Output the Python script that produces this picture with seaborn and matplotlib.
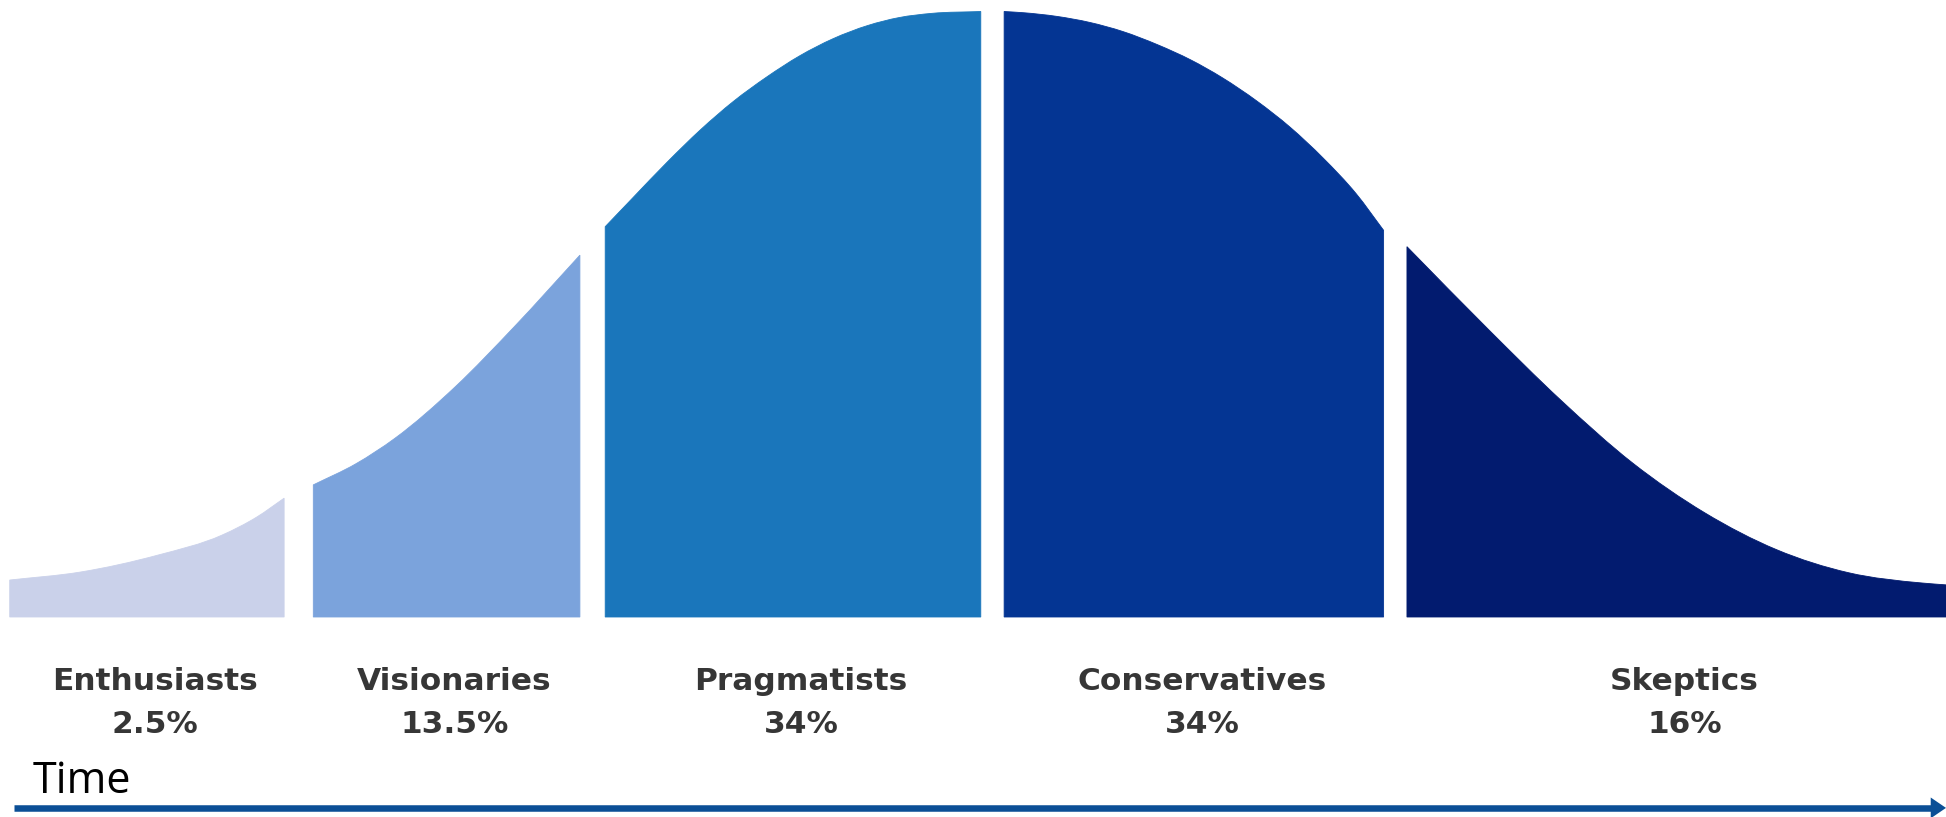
import numpy as np
import pandas as pd
import matplotlib
matplotlib.use("Agg")
import matplotlib.pyplot as plt
from matplotlib.path import Path
from matplotlib.patches import PathPatch
import seaborn as sns


segments = ["Enthusiasts", "Visionaries", "Pragmatists", "Conservatives", "Skeptics"]
shares = ["2.5%", "13.5%", "34%", "34%", "16%"]
colors = ["#cad1ea", "#7ba3dc", "#1a76bb", "#043593", "#021b6f"]

# outline of the curve
# time: 0-100 across the chart, height: peak of the curve = 100
enthusiasts_t = [0.5, 4.1, 8.1, 11.4, 13.2, 14.6]
enthusiasts_h = [6.1, 7.4, 10.2, 13.5, 16.5, 19.6]

visionaries_t = [16.1, 18.3, 20.3, 23.4, 26.4, 29.8]
visionaries_h = [21.8, 25.3, 29.5, 38.0, 47.8, 59.7]

pragmatists_t = [31.1, 32.5, 34.3, 36.0, 37.7, 39.4, 41.1, 42.8, 44.6, 46.2, 47.9, 50.4]
pragmatists_h = [64.4, 69.1, 75.1, 80.4, 85.1, 89.1, 92.6, 95.4, 97.6, 98.9, 99.6, 99.9]

conservatives_t = [51.6, 52.6, 54.3, 56.0, 57.7, 59.5, 61.2, 62.8, 64.6, 66.3, 68.0, 69.7, 71.1]
conservatives_h = [99.9, 99.7, 99.1, 98.1, 96.6, 94.4, 91.9, 89.0, 85.1, 80.8, 75.7, 69.8, 63.8]

skeptics_t = [72.3, 76.5, 80.2, 83.9, 87.6, 91.3, 95.0, 98.8, 100.0]
skeptics_h = [61.1, 47.4, 35.8, 25.4, 17.2, 11.1, 7.3, 5.6, 5.3]

outline_t = [enthusiasts_t, visionaries_t, pragmatists_t, conservatives_t, skeptics_t]
outline_h = [enthusiasts_h, visionaries_h, pragmatists_h, conservatives_h, skeptics_h]

# time axis under the labels
axis_t = [0.7, 99.3]
axis_level = -31.5


def smooth_area(ts, hs):
    # closed area under the outline, top edge drawn as a cubic hermite curve in x
    x = np.asarray(ts, float)
    y = np.asarray(hs, float)
    dx = np.diff(x)
    sec = np.diff(y) / dx
    m = np.empty_like(y)
    m[0], m[-1] = sec[0], sec[-1]
    m[1:-1] = (sec[:-1] * dx[1:] + sec[1:] * dx[:-1]) / (dx[:-1] + dx[1:])
    verts = [(x[0], 0), (x[0], y[0])]
    codes = [Path.MOVETO, Path.LINETO]
    for i in range(len(x) - 1):
        d = dx[i] / 3.0
        verts += [(x[i] + d, y[i] + m[i] * d),
                  (x[i + 1] - d, y[i + 1] - m[i + 1] * d),
                  (x[i + 1], y[i + 1])]
        codes += [Path.CURVE4] * 3
    verts += [(x[-1], 0), (x[0], 0)]
    codes += [Path.LINETO, Path.CLOSEPOLY]
    return Path(verts, codes)


sns.set_theme(style="white")
palette = sns.color_palette(colors)

fig = plt.figure(figsize=(19.46, 8.17), dpi=100)
ax = fig.add_axes([0, 0, 1, 1])

for ts, hs, col in zip(outline_t, outline_h, palette):
    ax.add_patch(PathPatch(smooth_area(ts, hs), facecolor=col, edgecolor=col, lw=0.6))

label_font = dict(family="DejaVu Sans", fontsize=22.5, fontweight="bold", color="#363636")
for seg, share, ts in zip(segments, shares, outline_t):
    cx = (ts[0] + ts[-1]) / 2
    ax.annotate(seg, (cx, -12.0), xytext=(8, 0), textcoords="offset pixels",
                ha="center", va="baseline", **label_font)
    ax.annotate(share, (cx, -19.1), xytext=(8, 0), textcoords="offset pixels",
                ha="center", va="baseline", **label_font)

ax.text(1.7, -29.0, "Time", family="Open Sans", fontsize=31, color="black",
        ha="left", va="baseline")

axis_df = pd.DataFrame({"time": axis_t, "level": [axis_level] * len(axis_t)})
sns.lineplot(data=axis_df, x="time", y="level", color="#0b4f96", lw=4.7,
             solid_capstyle="butt", ax=ax)
ax.annotate("", xy=(100, axis_level), xytext=(98.0, axis_level),
            arrowprops=dict(arrowstyle="-|>,head_length=1.1,head_width=0.75",
                            facecolor="#0b4f96", edgecolor="none", lw=0,
                            shrinkA=0, shrinkB=0, mutation_scale=10),
            annotation_clip=False)

ax.set_xlim(0, 100)
ax.set_ylim(-33.0, 101.8)
ax.axis("off")

fig.savefig("out.png", dpi=100)
